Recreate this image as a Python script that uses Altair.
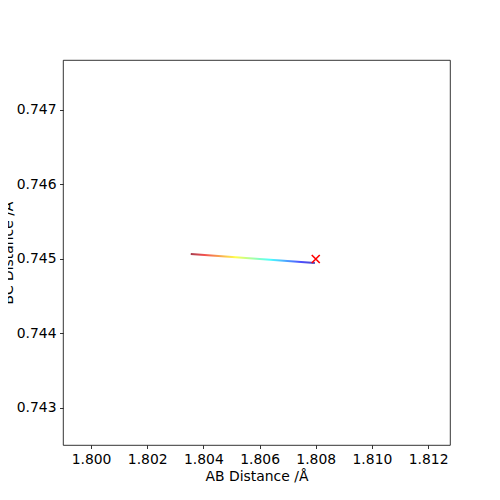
import altair as alt
import pandas as pd

# trajectory (AB distance, BC distance)
ab = [1.80355, 1.80797]
bc = [0.745068, 0.744946]
# marker position
mark_ab = [1.808]
mark_bc = [0.745]

x_ticks = [1.800, 1.802, 1.804, 1.806, 1.808, 1.810, 1.812]
y_ticks = [0.743, 0.744, 0.745, 0.746, 0.747]

line_df = pd.DataFrame({"ab": ab, "bc": bc})
mark_df = pd.DataFrame({"ab": mark_ab, "bc": mark_bc})

xs = alt.Scale(domain=[1.79900, 1.81278], nice=False, zero=False)
ys = alt.Scale(domain=[0.742503, 0.74767], nice=False, zero=False)

xax = alt.Axis(values=x_ticks, format=".3f", title="AB Distance /Å", grid=False,
               tickSize=3.5, tickColor="black", tickWidth=0.8, labelPadding=3.5,
               domain=False, titlePadding=4, labelFlush=False)
yax = alt.Axis(values=y_ticks, format=".3f", title="BC Distance /Å", grid=False,
               tickSize=3.5, tickColor="black", tickWidth=0.8, labelPadding=3.5,
               domain=False, titleX=-51, titleY=192.5, titleAngle=270,
               titleBaseline="alphabetic", titleAlign="center")

grad = alt.Gradient(
    gradient="linear",
    x1=0, x2=1, y1=0, y2=0,
    stops=[
        alt.GradientStop(offset=0.0, color="#a63d4d"),
        alt.GradientStop(offset=0.11, color="#f25050"),
        alt.GradientStop(offset=0.36, color="#ffff4d"),
        alt.GradientStop(offset=0.5, color="#a6ffa6"),
        alt.GradientStop(offset=0.64, color="#4dffff"),
        alt.GradientStop(offset=0.89, color="#4d4dff"),
        alt.GradientStop(offset=1.0, color="#4d4dc0"),
    ],
)

line = alt.Chart(line_df).mark_line(color=grad, strokeWidth=2, clip=True).encode(
    x=alt.X("ab:Q", scale=xs, axis=xax),
    y=alt.Y("bc:Q", scale=ys, axis=yax),
)

marker = alt.Chart(mark_df).mark_point(
    shape="M-1,-1L1,1M-1,1L1,-1", color="red", filled=False, size=64,
    strokeWidth=1.6, opacity=1
).encode(x=alt.X("ab:Q", scale=xs), y=alt.Y("bc:Q", scale=ys))

chart = (line + marker).properties(
    width=387, height=385,
    autosize=alt.AutoSizeParams(type="none"),
    padding={"left": 55, "top": 52, "right": 42, "bottom": 47},
    background="white",
).configure_view(stroke="black", strokeWidth=0.8).configure_axis(
    labelFont="DejaVu Sans", titleFont="DejaVu Sans", labelFontSize=13.9,
    titleFontSize=13.9, labelColor="black", titleColor="black", titleFontWeight="normal",
)

chart.save("out.html", embed_options={"renderer": "svg", "actions": False})
